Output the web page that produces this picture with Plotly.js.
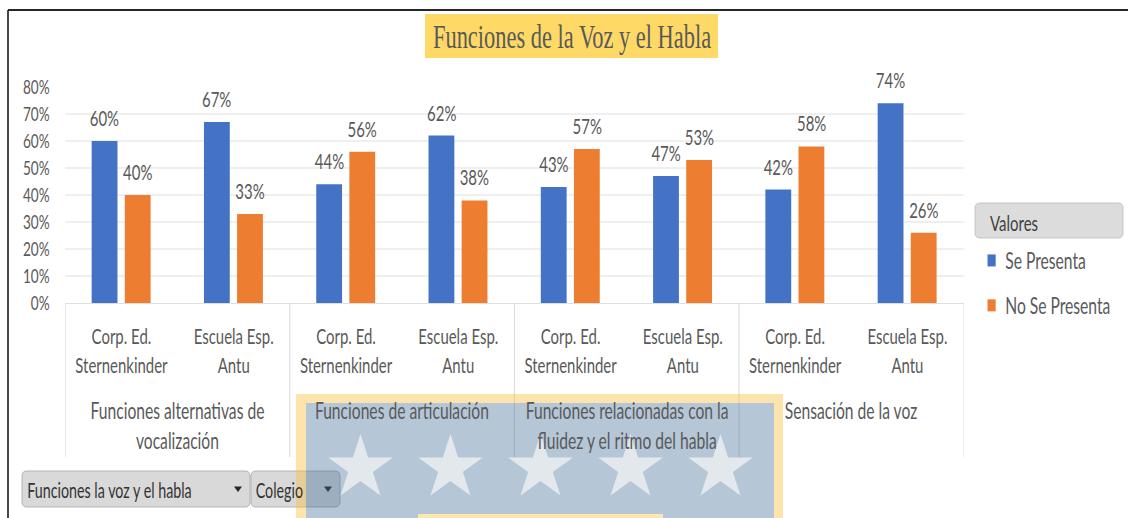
<!DOCTYPE html>
<html>
<head>
<meta charset="utf-8">
<script src="https://cdn.plot.ly/plotly-3.0.1.min.js"></script>
<style>
  html, body { margin:0; padding:0; background:#ffffff; overflow:hidden; width:1128px; height:518px; }
  #wrap { width:1128px; height:518px; overflow:hidden; position:relative; }
  #chart { width:1659px; height:518px; transform:scale(0.68,1); transform-origin:0 0; }
</style>
</head>
<body>
<div id="wrap"><div id="chart"></div></div>
<script>
// ---------------- DATA ----------------
const grupos = [
  'Funciones alternativas de<br>vocalización',
  'Funciones de articulación',
  'Funciones relacionadas con la<br>fluidez y el ritmo del habla',
  'Sensación de la voz'
];
const colegios = ['Corp. Ed.<br>Sternenkinder', 'Escuela Esp.<br>Antu'];
const seriesNames = ['Se Presenta', 'No Se Presenta'];
const sePresenta   = [0.60, 0.67, 0.44, 0.62, 0.43, 0.47, 0.42, 0.74];
const noSePresenta = [0.40, 0.33, 0.56, 0.38, 0.57, 0.53, 0.58, 0.26];
const titulo = 'Funciones de la Voz y el Habla';
const leyendaTitulo = 'Valores';
const filtros = ['Funciones la voz y el habla', 'Colegio'];

// ---------------- LAYOUT HELPERS ----------------
const S = 0.68, W = 1659, H = 518;
const M = { l: 96, r: 242, t: 87, b: 215 };
const plotW = W - M.l - M.r, plotH = H - M.t - M.b;
const PX = xs => (xs / S - M.l) / plotW;      // screen x -> paper
const PY = ys => (H - M.b - ys) / plotH;       // screen y -> paper

const xIdx = [], tickText = [];
grupos.forEach((g, gi) => colegios.forEach((c, ci) => { xIdx.push(gi * colegios.length + ci); tickText.push(c); }));

const colors = ['#4472C4', '#ED7D31'];
const BW = 0.23, OFF = [-0.265, 0.03];
const values = [sePresenta, noSePresenta];

const traces = values.map((v, s) => ({
  type: 'bar', x: xIdx, y: v, name: seriesNames[s],
  marker: { color: colors[s] }, width: BW, offset: OFF[s],
  legendgroup: 'g' + s, hoverinfo: 'skip'
}));

const font = 'Lato, "Open Sans", sans-serif';
const grey = '#595959';
const annotations = [];
values.forEach((v, s) => v.forEach((val, i) => {
  annotations.push({
    x: xIdx[i] + OFF[s] + BW / 2, y: val, xref: 'x', yref: 'y',
    text: Math.round(val * 100) + '%', showarrow: false, yanchor: 'bottom', yshift: 8,
    font: { family: font, size: 22, color: grey }
  });
}));
grupos.forEach((g, gi) => {
  const idx = xIdx.slice(gi * colegios.length, (gi + 1) * colegios.length);
  annotations.push({
    x: idx.reduce((a, b) => a + b, 0) / idx.length, xref: 'x', y: PY(394), yref: 'paper',
    yanchor: 'top', text: g, showarrow: false, align: 'center',
    font: { family: font, size: 23, color: grey }
  });
});
annotations.push({ x: PX(989), xref: 'paper', y: PY(222), yref: 'paper', xanchor: 'left', yanchor: 'middle',
  text: leyendaTitulo, showarrow: false, font: { family: font, size: 22, color: '#404040' } });
annotations.push({ x: PX(26), xref: 'paper', y: PY(489), yref: 'paper', xanchor: 'left', yanchor: 'middle',
  text: filtros[0], showarrow: false, font: { family: font, size: 21, color: '#333333' } });
annotations.push({ x: PX(254), xref: 'paper', y: PY(489), yref: 'paper', xanchor: 'left', yanchor: 'middle',
  text: filtros[1], showarrow: false, font: { family: font, size: 21, color: '#333333' } });

function rrect(x0, y0, x1, y1, r) {
  const p = (x, y) => PX(x) + ',' + PY(y);
  return 'M' + p(x0 + r, y0) + ' L' + p(x1 - r, y0) + ' Q' + p(x1, y0) + ' ' + p(x1, y0 + r) +
    ' L' + p(x1, y1 - r) + ' Q' + p(x1, y1) + ' ' + p(x1 - r, y1) +
    ' L' + p(x0 + r, y1) + ' Q' + p(x0, y1) + ' ' + p(x0, y1 - r) +
    ' L' + p(x0, y0 + r) + ' Q' + p(x0, y0) + ' ' + p(x0 + r, y0) + ' Z';
}
function star(cx, cy, R) {
  const r = R * 0.382; let d = '';
  for (let k = 0; k < 10; k++) {
    const a = k * Math.PI / 5, rr = k % 2 ? r : R;
    d += (k ? ' L' : 'M') + PX(cx + rr * Math.sin(a)) + ',' + PY(cy - rr * Math.cos(a));
  }
  return d + ' Z';
}
function tri(cx, cy) {
  return 'M' + PX(cx - 4) + ',' + PY(cy - 2.5) + ' L' + PX(cx + 4) + ',' + PY(cy - 2.5) + ' L' + PX(cx) + ',' + PY(cy + 3) + ' Z';
}
const rectP = (x0, y0, x1, y1, fill) => ({ type: 'rect', xref: 'paper', yref: 'paper', x0: PX(x0), x1: PX(x1), y0: PY(y0), y1: PY(y1), fillcolor: fill, line: { width: 0 }, layer: 'above' });

const shapes = [];
// title background
shapes.push(Object.assign(rectP(425, 14, 718, 58, '#FFD966'), { layer: 'below' }));
// category dividers
for (let gi = 0; gi <= grupos.length; gi++) {
  const xb = gi * colegios.length - 0.5;
  shapes.push({ type: 'line', xref: 'x', yref: 'paper', x0: xb, x1: xb, y0: 0, y1: PY(457), line: { color: '#D9D9D9', width: 1.5 }, layer: 'below' });
}
// legend header box
shapes.push({ type: 'path', path: rrect(975, 203, 1123, 238, 5), xref: 'paper', yref: 'paper', fillcolor: '#DCDCDC', line: { color: '#BDBDBD', width: 1 }, layer: 'below' });
// filter buttons
shapes.push({ type: 'path', path: rrect(22, 471, 250, 507, 5), xref: 'paper', yref: 'paper', fillcolor: '#D9D9D9', line: { color: '#A9A9A9', width: 1 }, layer: 'above' });
shapes.push({ type: 'path', path: rrect(251, 471, 340, 507, 5), xref: 'paper', yref: 'paper', fillcolor: '#D9D9D9', line: { color: '#A9A9A9', width: 1 }, layer: 'above' });
shapes.push({ type: 'path', path: tri(238, 489), xref: 'paper', yref: 'paper', fillcolor: '#262626', line: { width: 0 }, layer: 'above' });
shapes.push({ type: 'path', path: tri(328, 489), xref: 'paper', yref: 'paper', fillcolor: '#262626', line: { width: 0 }, layer: 'above' });
// watermark
const yel = 'rgba(250,190,60,0.42)';
shapes.push(rectP(296, 394, 783, 403, yel));
shapes.push(rectP(296, 403, 306, 530, yel));
shapes.push(rectP(774, 403, 783, 530, yel));
shapes.push(rectP(306, 403, 774, 530, 'rgba(60,105,150,0.38)'));
[360.5, 450.5, 540.5, 630.5, 720.5].forEach(cx => {
  shapes.push({ type: 'path', path: star(cx, 468, 34), xref: 'paper', yref: 'paper', fillcolor: 'rgba(245,245,245,0.72)', line: { width: 0 }, layer: 'above' });
});
shapes.push(rectP(418, 514, 663, 530, '#FCE6B2'));
// frame
shapes.push({ type: 'line', xref: 'paper', yref: 'paper', x0: PX(8), x1: PX(1130), y0: PY(10), y1: PY(10), line: { color: '#262626', width: 2 }, layer: 'above' });
shapes.push({ type: 'line', xref: 'paper', yref: 'paper', x0: PX(8), x1: PX(8), y0: PY(10), y1: PY(520), line: { color: '#262626', width: 2.5 }, layer: 'above' });

const layout = {
  width: W, height: H, margin: M,
  paper_bgcolor: '#ffffff', plot_bgcolor: '#ffffff',
  title: { text: titulo, font: { family: '"Liberation Serif", "Times New Roman", serif', size: 33, color: grey },
    xref: 'container', yref: 'container', x: 572 / 1128, y: 1 - 36 / 518, xanchor: 'center', yanchor: 'middle' },
  xaxis: { range: [-0.5, xIdx.length - 0.5], tickvals: xIdx, ticktext: tickText, showgrid: false, zeroline: false,
    showline: true, linecolor: '#D9D9D9', linewidth: 1, ticks: '', ticklabelstandoff: 14,
    tickfont: { family: font, size: 22, color: grey }, fixedrange: true },
  yaxis: { range: [0, 0.8], dtick: 0.1, tickformat: '.0%', showgrid: true, gridcolor: '#D9D9D9', gridwidth: 1,
    zeroline: false, showline: false, ticks: '', ticklabelstandoff: 22,
    tickfont: { family: font, size: 20, color: grey }, fixedrange: true },
  showlegend: true,
  legend: { x: PX(978), xanchor: 'left', y: PY(239), yanchor: 'top', traceorder: 'grouped', tracegroupgap: 12,
    bgcolor: 'rgba(0,0,0,0)', font: { family: font, size: 23, color: grey } },
  hovermode: false,
  annotations: annotations, shapes: shapes
};

Plotly.newPlot('chart', traces, layout, { displayModeBar: false, staticPlot: true, responsive: false });
</script>
</body>
</html>
